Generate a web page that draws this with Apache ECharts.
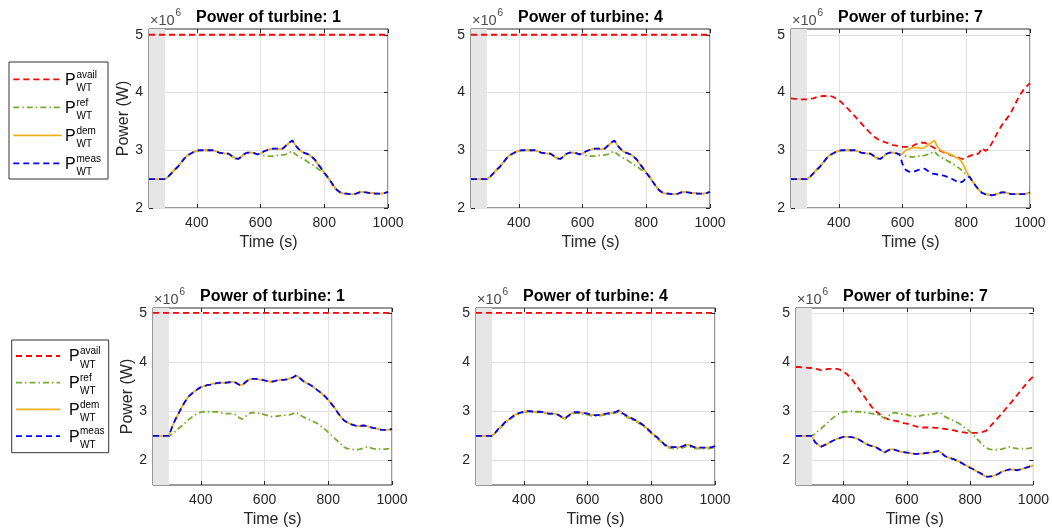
<!DOCTYPE html>
<html><head><meta charset="utf-8">
<script src="https://cdn.jsdelivr.net/npm/echarts@6/dist/echarts.min.js"></script>
<style>html,body{margin:0;padding:0;background:#fff}#c{width:1052px;height:531px}</style>
</head><body><div id="c"></div>
<script>
// ---------------- data ----------------
const time = [250,260,270,280,290,300,310,320,330,340,
350,360,370,380,390,400,410,420,430,440,
450,460,470,480,490,500,510,520,530,540,
550,560,570,580,590,600,610,620,630,640,
650,660,670,680,690,700,710,720,730,740,
750,760,770,780,790,800,810,820,830,840,
850,860,870,880,890,900,910,920,930,940,
950,960,970,980,990,1000];
const constTime = [250, 1000];
const availConst = [5.0, 5.0];
const shade = [250, 300];
const xTicks = [400, 600, 800, 1000];
const yTicks = [2, 3, 4, 5];
const titles = ['Power of turbine: 1','Power of turbine: 4','Power of turbine: 7','Power of turbine: 1','Power of turbine: 4','Power of turbine: 7'];
const supNames = ['avail','ref','dem','meas'];

// top row, turbines 1 and 4
const dem1 = [2.50,2.50,2.50,2.50,2.50,2.50,2.54,2.60,2.66,2.71,
2.78,2.85,2.91,2.94,2.97,2.99,3.00,3.00,3.00,3.00,
3.00,2.98,2.96,2.95,2.94,2.94,2.90,2.86,2.85,2.89,
2.94,2.96,2.96,2.95,2.93,2.94,2.98,3.00,3.02,3.03,
3.03,3.02,3.03,3.08,3.13,3.17,3.08,3.02,2.97,2.95,
2.93,2.89,2.84,2.76,2.69,2.61,2.54,2.46,2.38,2.31,
2.27,2.25,2.25,2.24,2.24,2.25,2.27,2.28,2.27,2.26,
2.26,2.25,2.25,2.25,2.26,2.28];
const ref1 = [2.50,2.50,2.50,2.50,2.50,2.50,2.54,2.60,2.66,2.71,
2.78,2.85,2.91,2.94,2.97,2.99,3.00,3.00,3.00,3.00,
3.00,2.98,2.96,2.95,2.94,2.94,2.90,2.86,2.85,2.89,
2.94,2.96,2.96,2.95,2.93,2.94,2.91,2.90,2.90,2.90,
2.91,2.91,2.92,2.93,2.96,2.98,2.93,2.89,2.86,2.83,
2.79,2.76,2.72,2.68,2.64,2.60,2.54,2.46,2.38,2.31,
2.27,2.25,2.25,2.24,2.24,2.25,2.27,2.28,2.27,2.26,
2.26,2.25,2.25,2.25,2.26,2.28];
// top row, turbine 7
const avail7 = [3.90,3.89,3.89,3.88,3.88,3.88,3.89,3.90,3.92,3.93,
3.94,3.94,3.94,3.93,3.90,3.87,3.82,3.77,3.71,3.65,
3.59,3.53,3.47,3.41,3.35,3.29,3.24,3.20,3.17,3.15,
3.13,3.11,3.09,3.08,3.07,3.06,3.06,3.06,3.07,3.10,
3.12,3.13,3.13,3.10,3.07,3.04,3.01,2.99,2.96,2.94,
2.92,2.90,2.88,2.86,2.85,2.87,2.90,2.92,2.92,2.95,
3.04,2.99,3.02,3.12,3.22,3.33,3.42,3.50,3.57,3.65,
3.76,3.87,3.97,4.05,4.11,4.16];
const dem7 = [2.50,2.50,2.50,2.50,2.50,2.50,2.54,2.60,2.66,2.71,
2.78,2.85,2.91,2.94,2.97,2.99,3.00,3.00,3.00,3.00,
3.00,2.98,2.96,2.95,2.94,2.94,2.90,2.86,2.85,2.89,
2.94,2.96,2.96,2.95,2.93,2.94,3.00,3.02,3.04,3.05,
3.04,3.03,3.05,3.09,3.13,3.17,3.06,3.00,2.97,2.95,
2.93,2.90,2.87,2.84,2.76,2.64,2.54,2.46,2.38,2.31,
2.26,2.24,2.23,2.22,2.23,2.25,2.27,2.27,2.26,2.24,
2.24,2.24,2.24,2.24,2.25,2.27];
const meas7 = [2.50,2.50,2.50,2.50,2.50,2.50,2.54,2.60,2.66,2.71,
2.78,2.85,2.91,2.94,2.97,2.99,3.00,3.00,3.00,3.00,
3.00,2.98,2.96,2.95,2.94,2.94,2.90,2.86,2.85,2.89,
2.94,2.96,2.96,2.95,2.93,2.76,2.66,2.63,2.62,2.64,
2.66,2.67,2.68,2.64,2.60,2.59,2.58,2.57,2.56,2.54,
2.52,2.49,2.46,2.44,2.46,2.53,2.54,2.46,2.38,2.31,
2.26,2.24,2.23,2.22,2.23,2.25,2.27,2.27,2.26,2.24,
2.24,2.24,2.24,2.24,2.25,2.27];
const ref7 = [2.50,2.50,2.50,2.50,2.50,2.50,2.54,2.60,2.66,2.71,
2.78,2.85,2.91,2.94,2.97,2.99,3.00,3.00,3.00,3.00,
3.00,2.98,2.96,2.95,2.94,2.94,2.90,2.86,2.85,2.89,
2.94,2.96,2.96,2.95,2.93,2.94,2.90,2.89,2.88,2.89,
2.90,2.90,2.91,2.93,2.95,2.98,2.92,2.88,2.85,2.82,
2.79,2.76,2.72,2.68,2.63,2.58,2.54,2.46,2.38,2.31,
2.26,2.24,2.23,2.22,2.23,2.25,2.27,2.27,2.26,2.24,
2.24,2.24,2.24,2.24,2.25,2.27];
// bottom row, turbine 1
const demB1 = [2.50,2.50,2.50,2.50,2.50,2.50,2.68,2.83,2.95,3.08,
3.19,3.29,3.35,3.40,3.45,3.49,3.51,3.53,3.54,3.56,
3.57,3.58,3.58,3.58,3.59,3.60,3.58,3.54,3.53,3.59,
3.64,3.66,3.66,3.65,3.64,3.63,3.61,3.60,3.61,3.63,
3.64,3.64,3.65,3.67,3.69,3.73,3.68,3.62,3.58,3.55,
3.51,3.46,3.41,3.36,3.30,3.23,3.15,3.07,2.97,2.88,
2.81,2.77,2.74,2.72,2.70,2.70,2.71,2.70,2.68,2.66,
2.65,2.63,2.62,2.62,2.62,2.64];
const refB1 = [2.50,2.50,2.50,2.50,2.50,2.50,2.53,2.59,2.65,2.70,
2.76,2.82,2.87,2.92,2.96,2.98,2.99,2.99,2.99,2.99,
2.99,2.98,2.96,2.95,2.95,2.95,2.93,2.87,2.84,2.89,
2.95,2.97,2.97,2.96,2.95,2.93,2.91,2.89,2.89,2.90,
2.91,2.92,2.92,2.93,2.95,2.98,2.93,2.89,2.86,2.83,
2.80,2.77,2.73,2.68,2.63,2.57,2.51,2.45,2.39,2.33,
2.27,2.24,2.23,2.22,2.22,2.23,2.25,2.27,2.26,2.24,
2.23,2.23,2.23,2.23,2.24,2.26];
// bottom row, turbine 4
const demB4 = [2.50,2.50,2.50,2.50,2.50,2.50,2.56,2.64,2.70,2.77,
2.82,2.87,2.92,2.95,2.97,2.99,3.00,3.00,2.99,2.99,
2.99,2.98,2.96,2.95,2.95,2.95,2.92,2.88,2.86,2.91,
2.96,2.98,2.98,2.97,2.96,2.95,2.93,2.92,2.92,2.93,
2.94,2.95,2.96,2.97,2.99,3.02,2.96,2.92,2.88,2.85,
2.82,2.78,2.74,2.69,2.63,2.57,2.51,2.46,2.40,2.33,
2.29,2.27,2.27,2.27,2.27,2.29,2.32,2.31,2.28,2.26,
2.26,2.26,2.26,2.26,2.27,2.29];
const refB4 = [2.50,2.50,2.50,2.50,2.50,2.50,2.55,2.62,2.68,2.75,
2.80,2.85,2.90,2.93,2.96,2.98,2.99,2.99,2.99,2.98,
2.98,2.97,2.95,2.94,2.94,2.94,2.91,2.87,2.85,2.89,
2.94,2.96,2.96,2.95,2.94,2.93,2.91,2.90,2.90,2.91,
2.92,2.93,2.94,2.95,2.97,2.99,2.94,2.90,2.86,2.83,
2.80,2.76,2.72,2.67,2.61,2.55,2.49,2.44,2.38,2.31,
2.27,2.25,2.24,2.24,2.24,2.26,2.29,2.28,2.26,2.24,
2.24,2.24,2.24,2.24,2.25,2.27];
// bottom row, turbine 7
const availB7 = [3.90,3.90,3.89,3.89,3.88,3.88,3.87,3.85,3.83,3.84,
3.86,3.86,3.86,3.86,3.84,3.80,3.76,3.69,3.62,3.53,
3.44,3.35,3.26,3.17,3.08,3.02,2.96,2.91,2.87,2.84,
2.82,2.81,2.80,2.78,2.76,2.75,2.73,2.71,2.69,2.68,
2.67,2.67,2.67,2.67,2.66,2.66,2.65,2.64,2.63,2.62,
2.61,2.59,2.58,2.57,2.56,2.56,2.56,2.56,2.57,2.58,
2.60,2.67,2.74,2.81,2.88,2.95,3.03,3.11,3.18,3.26,
3.34,3.42,3.50,3.58,3.65,3.71];
const refB7 = [2.50,2.50,2.50,2.50,2.50,2.50,2.54,2.60,2.65,2.71,
2.77,2.83,2.88,2.93,2.96,2.99,2.99,3.00,3.00,2.99,
2.99,2.98,2.97,2.96,2.95,2.94,2.93,2.90,2.85,2.89,
2.95,2.97,2.96,2.95,2.94,2.93,2.91,2.90,2.89,2.90,
2.92,2.93,2.93,2.94,2.95,2.98,2.95,2.89,2.86,2.83,
2.80,2.77,2.73,2.68,2.64,2.58,2.52,2.45,2.38,2.31,
2.26,2.23,2.22,2.22,2.22,2.23,2.25,2.28,2.27,2.25,
2.24,2.24,2.24,2.24,2.25,2.27];
const demB7 = [2.50,2.50,2.50,2.50,2.50,2.50,2.37,2.32,2.28,2.31,
2.34,2.38,2.41,2.44,2.46,2.48,2.48,2.48,2.47,2.45,
2.42,2.38,2.34,2.31,2.29,2.28,2.24,2.20,2.16,2.20,
2.23,2.22,2.20,2.18,2.17,2.16,2.15,2.14,2.13,2.14,
2.14,2.15,2.16,2.16,2.18,2.19,2.15,2.09,2.06,2.04,
2.02,1.99,1.96,1.92,1.89,1.85,1.82,1.78,1.75,1.71,
1.67,1.67,1.68,1.70,1.73,1.77,1.79,1.81,1.82,1.81,
1.80,1.82,1.84,1.86,1.88,1.90];

// ---------------- layout / style ----------------
const FONT = '"Liberation Sans", Arial, Helvetica, sans-serif';
const AX = '#262626';
const panels = [
  {box:{left:149, top:29, width:239, height:179}, ymin:2,   avail:[constTime, availConst], ref:ref1,  dem:dem1,  meas:dem1},
  {box:{left:471, top:29, width:239, height:179}, ymin:2,   avail:[constTime, availConst], ref:ref1,  dem:dem1,  meas:dem1},
  {box:{left:791, top:29, width:239, height:179}, ymin:2,   avail:[time, avail7],          ref:ref7,  dem:dem7,  meas:meas7},
  {box:{left:153, top:308, width:239, height:177}, ymin:1.5, avail:[constTime, availConst], ref:refB1, dem:demB1, meas:demB1},
  {box:{left:476, top:308, width:239, height:177}, ymin:1.5, avail:[constTime, availConst], ref:refB4, dem:demB4, meas:demB4},
  {box:{left:796, top:308, width:239, height:177}, ymin:1.5, avail:[time, availB7],         ref:refB7, dem:demB7, meas:demB7}
];
const styles = [
  {color:'#ff0000', dash:[6,4]},
  {color:'#77ac30', dash:[6,3,1.5,3]},
  {color:'#edb120', dash:null},
  {color:'#0000ff', dash:[6,4]}
];
const pairs = (t, v) => t.map((x, k) => [x, v[k]]);
const plain = v => String(v);

const grid = [], xAxis = [], yAxis = [], series = [], graphic = [];
panels.forEach((p, i) => {
  const b = p.box;
  grid.push({left:b.left, top:b.top, width:b.width, height:b.height, show:true, borderColor:'#333333', borderWidth:1, backgroundColor:'#fff', containLabel:false});
  const colFirst = (i % 3 === 0);
  xAxis.push({type:'value', gridIndex:i, min:250, max:1000, position:'bottom',
    axisLine:{show:false},
    axisTick:{show:true, inside:true, length:4, customValues:xTicks, lineStyle:{color:AX}},
    axisLabel:{customValues:xTicks, formatter:plain, color:AX, fontSize:14, fontFamily:FONT, margin:8},
    splitLine:{show:true, lineStyle:{color:'#e2e2e2', width:1}},
    name:'Time (s)', nameLocation:'middle', nameGap:27,
    nameTextStyle:{fontSize:16, color:AX, fontFamily:FONT}});
  xAxis.push({type:'value', gridIndex:i, min:250, max:1000, position:'top',
    axisLine:{show:false}, axisLabel:{show:false}, splitLine:{show:false},
    axisTick:{show:true, inside:true, length:4, customValues:xTicks, lineStyle:{color:AX}}});
  yAxis.push({type:'value', gridIndex:i, min:p.ymin, max:5.1, position:'left',
    axisLine:{show:false},
    axisTick:{show:true, inside:true, length:4, customValues:yTicks, lineStyle:{color:AX}},
    axisLabel:{customValues:yTicks, formatter:plain, color:AX, fontSize:14, fontFamily:FONT, margin:6},
    splitLine:{show:true, lineStyle:{color:'#e2e2e2', width:1}},
    name: colFirst ? 'Power (W)' : '', nameLocation:'middle', nameGap:15,
    nameTextStyle:{fontSize:16, color:AX, fontFamily:FONT}});
  yAxis.push({type:'value', gridIndex:i, min:p.ymin, max:5.1, position:'right',
    axisLine:{show:false}, axisLabel:{show:false}, splitLine:{show:false},
    axisTick:{show:true, inside:true, length:4, customValues:yTicks, lineStyle:{color:AX}}});

  series.push({type:'line', xAxisIndex:2*i, yAxisIndex:2*i, data:[], silent:true,
    markArea:{silent:true, itemStyle:{color:'#e6e6e6'}, data:[[{xAxis:shade[0]},{xAxis:shade[1]}]]}});
  const lines = [pairs(p.avail[0], p.avail[1]), pairs(time, p.ref), pairs(time, p.dem), pairs(time, p.meas)];
  lines.forEach((d, k) => {
    series.push({type:'line', name:supNames[k], xAxisIndex:2*i, yAxisIndex:2*i, data:d,
      showSymbol:false, symbol:'none', silent:true,
      lineStyle:{color:styles[k].color, width:1.8, type: styles[k].dash || 'solid'}});
  });

  // titles and exponent labels
  graphic.push({type:'text', silent:true, style:{text:titles[i], x:b.left + b.width/2, y:b.top - 11.5,
    align:'center', verticalAlign:'middle', font:'bold 16px ' + FONT, fill:'#000'}});
  graphic.push({type:'text', silent:true, style:{text:'\u00d710', x:b.left + 1, y:b.top - 8.5,
    align:'left', verticalAlign:'middle', font:'14.5px ' + FONT, fill:'#4a4a4a'}});
  graphic.push({type:'text', silent:true, style:{text:'6', x:b.left + 26.5, y:b.top - 15.5,
    align:'left', verticalAlign:'middle', font:'10px ' + FONT, fill:'#4a4a4a'}});
});

// legends
const legends = [
  {x:9, y:62, w:99, h:117, row0:79.3, step:28, lx1:13.3, lx2:61.7, px:65, sx:76.5},
  {x:11.7, y:340, w:97, h:112.7, row0:356, step:26.7, lx1:16, lx2:60, px:69, sx:80}
];
legends.forEach(L => {
  graphic.push({type:'rect', silent:true, shape:{x:L.x, y:L.y, width:L.w, height:L.h},
    style:{fill:'#fff', stroke:'#333333', lineWidth:1}});
  styles.forEach((s, k) => {
    const y = L.row0 + k * L.step;
    graphic.push({type:'line', silent:true, shape:{x1:L.lx1, y1:y, x2:L.lx2, y2:y},
      style:{stroke:s.color, lineWidth:1.8, lineDash:s.dash}});
    graphic.push({type:'text', silent:true, style:{text:'P', x:L.px, y:y + 1, align:'left', verticalAlign:'middle',
      font:'16px ' + FONT, fill:'#000'}});
    graphic.push({type:'text', silent:true, style:{text:supNames[k], x:L.sx, y:y - 4.5, align:'left', verticalAlign:'middle',
      font:'10px ' + FONT, fill:'#000'}});
    graphic.push({type:'text', silent:true, style:{text:'WT', x:L.sx, y:y + 9, align:'left', verticalAlign:'middle',
      font:'10px ' + FONT, fill:'#000'}});
  });
});

const chart = echarts.init(document.getElementById('c'), null, {renderer:'canvas'});
chart.setOption({
  animation:false,
  backgroundColor:'#fff',
  grid, xAxis, yAxis, series, graphic
});
</script>
</body></html>
